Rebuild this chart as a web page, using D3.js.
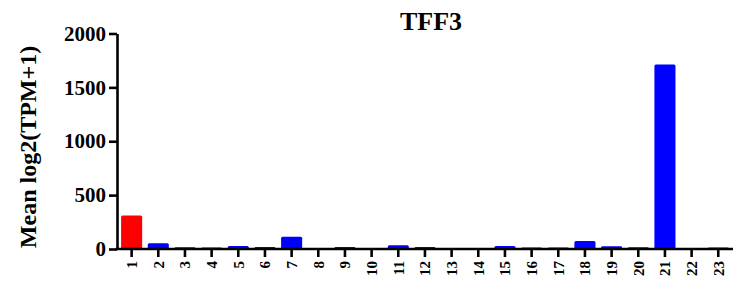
<!DOCTYPE html>
<html>
<head>
<meta charset="utf-8">
<title>TFF3</title>
<script src="https://d3js.org/d3.v7.min.js"></script>
<style>
  body { margin: 0; background: #fff; }
  svg { display: block; font-family: "Liberation Serif", "Times New Roman", serif; font-weight: bold; }
  .axis path, .axis line { stroke: #000; stroke-width: 2.6; }
</style>
</head>
<body>
<div id="chart"></div>
<script>
// Data
const categories = ["1","2","3","4","5","6","7","8","9","10","11","12","13","14","15","16","17","18","19","20","21","22","23"];
const values = [310, 53, 16, 15, 28, 18, 114, 0, 18, 0, 34, 18, 0, 0, 28, 15, 14, 74, 25, 16, 1712, 0, 15];
const highlight = ["1"];
const yTicks = [0, 500, 1000, 1500, 2000];

const width = 733, height = 289;
const x0 = 117, yBase = 249, yTop = 33.5;
const serif = "Liberation Serif, Times New Roman, serif";

const svg = d3.select("#chart").append("svg")
  .attr("width", width)
  .attr("height", height);

const x = d3.scaleBand()
  .domain(categories)
  .range([118.3, 731.6])
  .paddingInner(0.21)
  .paddingOuter(0.105);

const y = d3.scaleLinear()
  .domain([0, 2000])
  .range([yBase, yTop]);

// Bars
svg.selectAll(".bar")
  .data(categories)
  .enter().append("rect")
  .attr("class", "bar")
  .attr("x", (d) => x(d))
  .attr("y", (d, i) => y(values[i]))
  .attr("width", x.bandwidth())
  .attr("height", (d, i) => yBase - y(values[i]))
  .attr("rx", 1.5)
  .attr("fill", (d) => highlight.includes(d) ? "#ff0000" : "#0000ff");

// Y axis
const yAxis = svg.append("g")
  .attr("class", "axis")
  .attr("transform", `translate(${x0},0)`)
  .call(d3.axisLeft(y).tickValues(yTicks).tickFormat(d3.format("d"))
    .tickSize(8).tickSizeOuter(0).tickPadding(3));

yAxis.selectAll("text")
  .attr("font-size", 21)
  .attr("font-family", serif)
  .attr("font-weight", "bold")
  .attr("fill", "#000");

// X axis
const xAxis = svg.append("g")
  .attr("class", "axis")
  .attr("transform", `translate(0,${yBase})`)
  .call(d3.axisBottom(x).tickSize(8).tickSizeOuter(0));

xAxis.select(".domain").remove();
xAxis.append("line")
  .attr("x1", x0 - 1.3)
  .attr("x2", width)
  .attr("y1", 0)
  .attr("y2", 0);

xAxis.selectAll("text")
  .attr("font-size", 15)
  .attr("font-family", serif)
  .attr("font-weight", "bold")
  .attr("fill", "#000")
  .attr("text-anchor", "end")
  .attr("transform", "rotate(-90)")
  .attr("x", -12)
  .attr("y", 0)
  .attr("dy", "0.35em");

// Title
svg.append("text")
  .attr("x", 431)
  .attr("y", 30)
  .attr("text-anchor", "middle")
  .attr("font-size", 26)
  .text("TFF3");

// Y label
svg.append("text")
  .attr("transform", `translate(36,147) rotate(-90)`)
  .attr("text-anchor", "middle")
  .attr("font-size", 24)
  .text("Mean log2(TPM+1)");
</script>
</body>
</html>
